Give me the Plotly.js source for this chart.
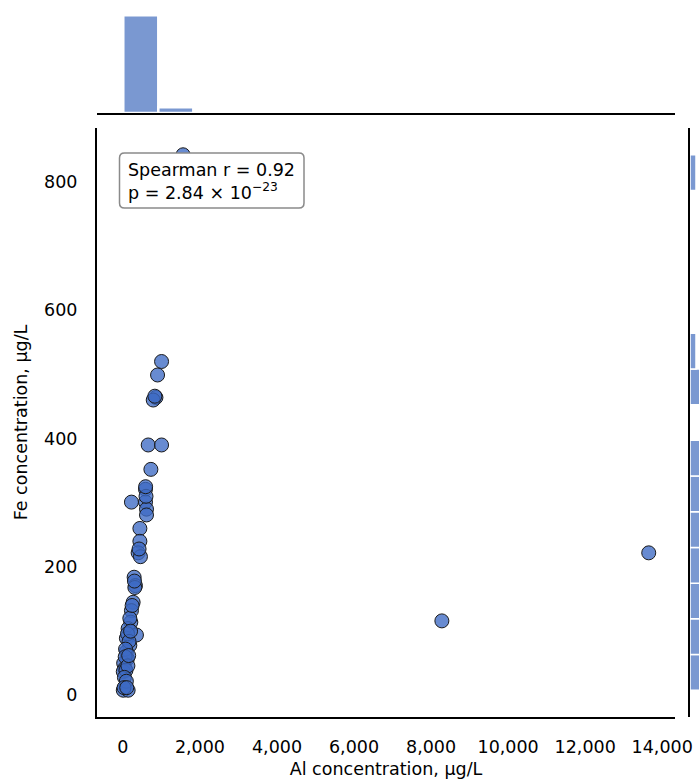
<!DOCTYPE html>
<html><head><meta charset="utf-8">
<script src="https://cdn.plot.ly/plotly-3.0.1.min.js"></script>
<style>html,body{margin:0;padding:0;background:#fff}</style>
</head><body><div id="chart" style="width:699px;height:780px"></div>
<script>
// Al (x) and Fe (y) concentrations, µg/L
const alConc = [1562, 1004, 900, 858, 787, 657, 1004, 727, 587, 587,
                222, 613, 613, 441, 441, 396, 456, 292, 326, 310,
                266, 222, 206, 136, 352, 91, 180, 91, 117, 20,
                50, 10, 80, 10, 136, 8280, 13650, 180, 120, 160,
                70, 60, 130, 40, 90, 30, 100, 300, 240, 420,
                600, 590, 830, 150, 200];
const feConc = [842, 520, 499, 464, 460, 390, 390, 352, 321, 301,
                301, 290, 281, 260, 240, 222, 216, 184, 171, 168,
                145, 132, 114, 104, 94, 89, 78, 68, 57, 50,
                42, 37, 39, 8, 8, 116, 222, 120, 96, 84,
                72, 60, 46, 28, 22, 12, 12, 178, 140, 228,
                310, 325, 466, 62, 100];
const xTickVals = [0, 2000, 4000, 6000, 8000, 10000, 12000, 14000];
const yTickVals = [0, 200, 400, 600, 800];
const statLines = ['Spearman r = 0.92', 'p = 2.84 × 10<sup>−23</sup>'];
const xTitle = 'Al concentration, μg/L';
const yTitle = 'Fe concentration, μg/L';
const nBins = 15;

const FONT = 'DejaVu Sans, Liberation Sans, sans-serif';
const FS = 17.5;
const W = 699, H = 780, ML = 97, MB = 63;
const plotW = W - ML, plotH = H - MB;
const px = v => (v - ML) / plotW;
const py = v => (plotH - v) / plotH;

function padRange(arr) {
  const mn = Math.min(...arr), mx = Math.max(...arr), s = mx - mn;
  return [mn - 0.05 * s, mx + 0.05 * s];
}
function bins(arr) {
  const mn = Math.min(...arr), mx = Math.max(...arr), s = mx - mn;
  return {start: mn - s * 1e-6, size: s * (1 + 2e-6) / nBins};
}

const markerColor = 'rgba(62,106,196,0.78)';
const histColor = '#7a98d1';

const traces = [
  {type: 'scatter', mode: 'markers', x: alConc, y: feConc, xaxis: 'x', yaxis: 'y',
   marker: {size: 14, color: markerColor, line: {color: '#1a1a1a', width: 1}},
   hoverinfo: 'x+y', showlegend: false},
  {type: 'histogram', x: alConc, xaxis: 'x2', yaxis: 'y2', xbins: bins(alConc),
   marker: {color: histColor, line: {color: '#ffffff', width: 2.5}}, showlegend: false},
  {type: 'histogram', y: feConc, xaxis: 'x3', yaxis: 'y4', ybins: bins(feConc), orientation: 'h',
   marker: {color: histColor, line: {color: '#ffffff', width: 1.5}}, showlegend: false}
];

const mainXDom = [0, px(675)];
const mainYDom = [0, py(128)];

const axisBase = {showgrid: false, zeroline: false, ticks: '', showline: true,
                  linecolor: '#000', linewidth: 2, mirror: false};

const bx0 = px(119.5), bx1 = px(304), by0 = py(208), by1 = py(153);
const rx = 5 / plotW, ry = 5 / plotH;
const boxPath = `M ${bx0+rx},${by0} L ${bx1-rx},${by0} Q ${bx1},${by0} ${bx1},${by0+ry} ` +
  `L ${bx1},${by1-ry} Q ${bx1},${by1} ${bx1-rx},${by1} L ${bx0+rx},${by1} ` +
  `Q ${bx0},${by1} ${bx0},${by1-ry} L ${bx0},${by0+ry} Q ${bx0},${by0} ${bx0+rx},${by0} Z`;

const layout = {
  width: W, height: H,
  margin: {l: ML, r: 0, t: 0, b: MB, pad: 0},
  paper_bgcolor: '#fff', plot_bgcolor: 'rgba(0,0,0,0)',
  font: {family: FONT, size: FS, color: '#000'},
  bargap: 0,
  showlegend: false,
  xaxis: Object.assign({}, axisBase, {
    domain: mainXDom, anchor: 'y', range: padRange(alConc),
    tickvals: xTickVals, tickformat: ',d', ticklabelstandoff: 13,
    tickfont: {family: FONT, size: FS, color: '#000'},
    title: {text: xTitle, font: {family: FONT, size: FS, color: '#000'}, standoff: 7}
  }),
  yaxis: Object.assign({}, axisBase, {
    domain: mainYDom, anchor: 'x', range: padRange(feConc),
    tickvals: yTickVals, ticklabelstandoff: 14,
    tickfont: {family: FONT, size: FS, color: '#000'},
    title: {text: yTitle, font: {family: FONT, size: FS, color: '#000'}, standoff: 12}
  }),
  xaxis2: Object.assign({}, axisBase, {
    domain: mainXDom, anchor: 'y2', matches: 'x', showticklabels: false
  }),
  yaxis2: {domain: [py(113), py(10)], anchor: 'x2', visible: false, rangemode: 'tozero',
           showgrid: false, zeroline: false},
  xaxis3: {domain: [px(690), 1], anchor: 'y4', range: [0, 1.5], visible: false,
           showgrid: false, zeroline: false},
  yaxis4: Object.assign({}, axisBase, {
    domain: mainYDom, anchor: 'x3', matches: 'y', showticklabels: false
  }),
  shapes: [{type: 'path', xref: 'paper', yref: 'paper', path: boxPath,
            fillcolor: '#ffffff', line: {color: '#8a8a8a', width: 1.5}, layer: 'above'}],
  annotations: [{xref: 'paper', yref: 'paper', x: px(126), y: py(181),
                 xanchor: 'left', yanchor: 'middle', align: 'left', showarrow: false,
                 text: statLines.join('<br>'),
                 font: {family: FONT, size: FS, color: '#000'}}]
};

Plotly.newPlot('chart', traces, layout, {displayModeBar: false, staticPlot: true});
</script></body></html>
